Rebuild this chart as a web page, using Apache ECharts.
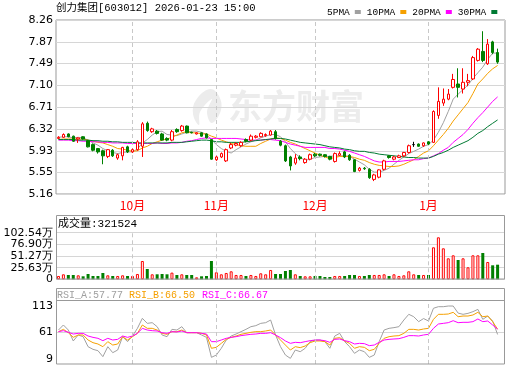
<!DOCTYPE html>
<html><head><meta charset="utf-8">
<script src="https://cdn.jsdelivr.net/npm/echarts@6/dist/echarts.min.js"></script>
<style>html,body{margin:0;padding:0;background:#fff}#c{width:520px;height:365px}</style>
</head><body><div id="c"></div>
<script>
const dates = ['09-10','09-11','09-12','09-15','09-16','09-17','09-18','09-19','09-22','09-23','09-24','09-25','09-26','09-29','09-30',
'10-09','10-10','10-13','10-14','10-15','10-16','10-17','10-20','10-21','10-22','10-23','10-24','10-27','10-28','10-29','10-30','10-31',
'11-03','11-04','11-05','11-06','11-07','11-10','11-11','11-12','11-13','11-14','11-17','11-18','11-19','11-20','11-21','11-24','11-25','11-26','11-27','11-28',
'12-01','12-02','12-03','12-04','12-05','12-08','12-09','12-10','12-11','12-12','12-15','12-16','12-17','12-18','12-19','12-22','12-23','12-24','12-25','12-26','12-29','12-30','12-31',
'01-05','01-06','01-07','01-08','01-09','01-12','01-13','01-14','01-15','01-16','01-19','01-20','01-21','01-22','01-23'];
const open = [6.15,6.17,6.23,6.19,6.14,6.18,6.11,6.04,5.97,5.93,
5.83,5.94,5.80,5.84,6.00,5.91,5.95,6.01,6.42,6.27,
6.28,6.23,6.15,6.12,6.31,6.29,6.37,6.26,6.23,6.25,
6.23,6.13,5.77,5.82,5.75,5.98,6.03,6.02,6.13,6.12,
6.17,6.18,6.20,6.21,6.27,6.10,6.02,5.82,5.71,5.82,
5.72,5.78,5.87,5.87,5.86,5.83,5.74,5.85,5.91,5.85,
5.77,5.58,5.62,5.60,5.42,5.46,5.60,5.84,5.78,5.81,
5.84,5.90,6.04,6.05,6.02,6.09,6.08,6.56,6.78,6.85,
7.06,7.12,7.03,7.15,7.21,7.54,7.70,7.48,7.87,7.68];
const close = [6.17,6.22,6.18,6.10,6.16,6.14,6.00,5.94,5.91,5.84,
5.95,5.84,5.86,5.99,5.91,5.95,6.09,6.41,6.29,6.32,
6.24,6.12,6.12,6.27,6.27,6.37,6.25,6.25,6.25,6.19,
6.16,5.78,5.82,5.88,5.95,6.04,6.06,6.08,6.10,6.19,
6.19,6.24,6.22,6.28,6.15,6.03,5.75,5.66,5.80,5.79,
5.78,5.86,5.84,5.85,5.83,5.78,5.88,5.88,5.82,5.77,
5.56,5.62,5.61,5.45,5.50,5.59,5.75,5.81,5.82,5.84,
5.90,6.02,6.04,6.01,6.07,6.05,6.63,6.81,6.85,6.94,
7.20,7.06,7.15,7.18,7.59,7.74,7.54,7.83,7.68,7.51];
const high = [6.19,6.24,6.24,6.20,6.17,6.19,6.12,6.06,5.98,5.95,
5.96,5.96,5.88,6.00,6.02,5.97,6.12,6.44,6.45,6.34,
6.30,6.25,6.17,6.30,6.33,6.39,6.38,6.27,6.26,6.26,
6.24,6.14,5.84,5.90,5.97,6.07,6.08,6.10,6.15,6.22,
6.21,6.26,6.24,6.30,6.30,6.12,6.04,5.84,5.87,5.85,
5.80,5.88,5.89,5.88,5.87,5.84,5.90,5.92,5.93,5.87,
5.78,5.64,5.64,5.62,5.52,5.60,5.77,5.85,5.84,5.86,
5.91,6.04,6.09,6.06,6.08,6.10,6.65,7.06,7.04,7.03,
7.30,7.40,7.40,7.30,7.62,7.76,8.06,7.92,7.89,7.75];
const low = [6.14,6.16,6.17,6.09,6.07,6.13,5.99,5.92,5.88,5.69,
5.80,5.82,5.77,5.76,5.89,5.89,5.93,5.82,6.27,6.25,
6.22,6.11,6.10,6.10,6.25,6.27,6.24,6.24,6.22,6.18,
6.15,5.77,5.75,5.80,5.73,5.96,6.01,6.00,6.08,6.10,
6.15,6.17,6.18,6.20,6.13,6.01,5.73,5.58,5.68,5.76,
5.70,5.76,5.82,5.83,5.81,5.76,5.72,5.84,5.80,5.75,
5.55,5.56,5.59,5.43,5.39,5.44,5.58,5.79,5.76,5.80,
5.82,5.88,6.00,6.00,6.00,6.03,6.07,6.50,6.73,6.83,
7.04,6.88,6.95,7.08,7.19,7.52,7.51,7.46,7.65,7.48];
const volume = [73000,110000,95000,95000,88000,66000,117000,73000,73000,139000,
88000,73000,73000,88000,73000,73000,117000,403000,227000,110000,
110000,117000,110000,147000,95000,110000,95000,95000,44000,66000,
73000,403000,154000,110000,139000,176000,95000,95000,73000,95000,
73000,132000,110000,205000,117000,117000,183000,205000,110000,73000,
66000,66000,73000,73000,51000,51000,73000,73000,73000,95000,
95000,73000,73000,95000,95000,95000,110000,73000,110000,73000,
88000,176000,110000,95000,95000,95000,704000,924000,682000,462000,
528000,425000,462000,264000,528000,528000,579000,381000,308000,321524];
const ma5 = [6.17,6.18,6.18,6.16,6.17,6.16,6.12,6.07,6.03,5.97,
5.93,5.90,5.88,5.90,5.91,5.91,5.96,6.07,6.13,6.21,
6.27,6.28,6.22,6.21,6.20,6.23,6.26,6.28,6.28,6.26,
6.22,6.13,6.04,5.97,5.92,5.89,5.95,6.00,6.05,6.09,
6.12,6.16,6.19,6.22,6.22,6.18,6.09,5.97,5.88,5.81,
5.76,5.78,5.81,5.82,5.83,5.83,5.84,5.84,5.84,5.83,
5.78,5.73,5.68,5.60,5.55,5.55,5.58,5.62,5.69,5.76,
5.82,5.88,5.92,5.96,6.01,6.04,6.12,6.26,6.43,6.63,
6.85,6.94,7.02,7.10,7.22,7.32,7.42,7.56,7.67,7.67];
const ma10 = [6.13,6.14,6.14,6.14,6.14,6.14,6.12,6.10,6.08,6.07,
6.04,6.01,5.97,5.96,5.94,5.92,5.93,5.98,6.01,6.06,
6.09,6.12,6.14,6.17,6.21,6.25,6.27,6.25,6.25,6.23,
6.23,6.19,6.16,6.12,6.09,6.06,6.04,6.02,6.01,6.01,
6.01,6.06,6.10,6.14,6.16,6.15,6.12,6.08,6.05,6.01,
5.97,5.93,5.89,5.85,5.82,5.79,5.81,5.83,5.83,5.83,
5.81,5.78,5.76,5.72,5.69,5.67,5.66,5.65,5.65,5.66,
5.69,5.73,5.77,5.83,5.89,5.93,6.02,6.12,6.22,6.33,
6.46,6.57,6.68,6.79,6.95,7.12,7.21,7.31,7.39,7.45];
const ma20 = [6.12,6.12,6.12,6.11,6.11,6.10,6.10,6.09,6.09,6.08,
6.08,6.07,6.07,6.07,6.06,6.06,6.06,6.06,6.06,6.06,
6.07,6.06,6.06,6.07,6.07,6.08,6.10,6.11,6.13,6.15,
6.16,6.15,6.15,6.15,6.15,6.15,6.15,6.14,6.13,6.12,
6.12,6.12,6.13,6.13,6.12,6.11,6.08,6.05,6.03,6.01,
5.99,5.99,5.99,5.99,5.99,5.97,5.97,5.96,5.94,5.92,
5.89,5.86,5.83,5.79,5.75,5.73,5.73,5.74,5.74,5.74,
5.75,5.76,5.77,5.77,5.79,5.80,5.84,5.88,5.94,5.99,
6.08,6.15,6.22,6.31,6.42,6.52,6.61,6.71,6.81,6.89];
const ma30 = [6.13,6.13,6.13,6.13,6.12,6.12,6.12,6.11,6.11,6.10,
6.10,6.09,6.09,6.08,6.08,6.08,6.07,6.07,6.07,6.07,
6.07,6.07,6.07,6.08,6.08,6.08,6.09,6.10,6.11,6.12,
6.12,6.11,6.09,6.09,6.08,6.08,6.08,6.08,6.09,6.10,
6.11,6.12,6.13,6.14,6.15,6.15,6.14,6.12,6.10,6.08,
6.07,6.06,6.05,6.04,6.02,6.00,5.99,5.98,5.96,5.95,
5.93,5.92,5.92,5.90,5.89,5.87,5.86,5.85,5.84,5.83,
5.82,5.81,5.81,5.80,5.80,5.80,5.83,5.87,5.90,5.94,
5.99,6.03,6.07,6.11,6.17,6.24,6.29,6.36,6.42,6.48];
const rsiA = [65.1,73.4,65.1,47.0,56.9,54.1,37.6,33.2,31.0,21.1,
37.6,27.7,32.1,54.1,45.9,55.2,67.9,84.4,76.1,77.2,
70.6,56.9,54.1,66.2,65.1,70.6,60.7,60.7,60.7,56.9,
53.0,20.0,23.8,34.9,48.6,55.2,58.5,62.4,66.2,70.6,
72.3,76.1,77.2,81.6,56.9,37.6,23.8,18.3,32.1,29.3,
34.9,45.9,48.6,48.6,45.9,34.9,55.2,59.6,45.9,37.6,
26.6,32.1,29.3,20.0,23.8,45.9,65.1,67.9,69.0,70.6,
81.6,91.0,87.1,78.9,84.0,80.0,101.0,103.6,103.6,104.7,
104.7,93.0,91.0,92.6,95.4,99.2,82.7,88.2,80.0,57.77];
const rsiB = [62.4,66.2,60.7,53.0,56.9,56.9,48.6,44.2,42.0,37.6,
45.9,40.3,42.0,54.1,48.6,54.1,59.6,73.4,67.9,67.9,
65.1,59.6,58.0,62.4,62.4,65.1,60.7,60.7,60.7,59.6,
56.9,34.9,36.5,43.1,49.7,53.0,55.2,58.0,59.6,61.3,
62.4,62.4,63.5,65.1,56.9,48.6,40.3,32.1,37.6,36.0,
38.7,44.2,47.0,47.0,45.9,40.3,51.4,52.5,47.0,43.1,
34.9,37.6,36.5,31.0,33.2,43.1,51.4,54.1,55.2,55.8,
59.6,66.2,66.2,65.1,66.8,67.9,82.7,91.0,91.0,91.5,
94.3,87.1,88.2,88.2,89.9,94.3,87.1,88.2,78.9,66.50];
const rsiC = [62.4,64.0,61.3,58.5,59.6,59.6,55.2,53.0,51.4,47.5,
51.4,48.6,49.7,55.2,53.0,55.2,59.6,67.9,65.1,64.0,
63.5,60.7,59.6,62.4,61.8,63.5,60.7,60.7,60.7,59.6,
58.5,45.9,45.9,48.6,51.4,53.0,54.1,55.8,56.9,58.0,
58.5,59.6,59.6,60.7,56.9,52.5,47.0,43.1,44.8,44.2,
45.9,47.5,48.6,48.6,47.5,44.8,49.7,50.3,47.5,45.9,
42.0,43.1,42.6,39.3,40.3,44.8,48.6,49.7,50.3,50.8,
53.0,55.8,55.8,55.2,56.9,58.0,67.9,75.0,76.1,77.2,
80.5,77.2,77.8,77.8,78.9,83.3,78.9,80.0,73.4,66.67];
const priceTicks = ['5.16','5.55','5.93','6.32','6.71','7.10','7.49','7.87','8.26'];
const volTicks = ['0','25.63万','51.27万','76.90万','102.54万'];
const rsiTicks = ['9','61','113'];
const monthTickDates = ['10-09','11-03','12-01','01-05'];
const monthTickLabels = ['10月','11月','12月','1月'];
const maNames = ['5PMA','10PMA','20PMA','30PMA'];
const titleText = '创力集团[603012] 2026-01-23 15:00';
const volText = '成交量:321524';
const rsiTexts = ['RSI_A:57.77','RSI_B:66.50','RSI_C:66.67'];

const maColors = ['#a0a0a0','#f5a000','#ff00ff','#007a33'];
const rsiColors = ['#a0a0a0','#f5a000','#ff00ff'];
const cats = dates.concat(['']);
const volStep = 256350;
const gridColor = '#d6d6d6';
const frameColor = '#999';
const axisFont = {fontFamily:'DejaVu Sans', fontSize:11, color:'#000'};

const chart = echarts.init(document.getElementById('c'));
const candleData = dates.map((d,i)=>[open[i], close[i], low[i], high[i]]);
const volData = volume.map((v,i)=>({value:v, itemStyle: close[i] >= open[i]
  ? {color:'#fff', borderColor:'#ff0000', borderWidth:1}
  : {color:'#008000', borderColor:'#008000', borderWidth:0}}));
const vLines = () => ({silent:true, symbol:['none','none'], label:{show:false},
  lineStyle:{type:[4,3], color:'#c8c8c8', width:1}, emphasis:{disabled:true},
  data: monthTickDates.map(d=>({xAxis:d}))});

const xBase = (gi, showLabel) => ({type:'category', gridIndex:gi, data:cats, boundaryGap:true,
  axisLine:{show:false}, axisTick:{show:false}, splitLine:{show:false},
  axisLabel: showLabel ? {interval:(idx,val)=>monthTickDates.indexOf(val)>=0,
    formatter:(val)=>monthTickLabels[monthTickDates.indexOf(val)]||'',
    color:'#ff0000', fontSize:12, margin:5, fontFamily:'Noto Sans CJK SC'} : {show:false}});

const series = [];
maNames.forEach((n,k)=>{
  series.push({type:'line', name:n, xAxisIndex:0, yAxisIndex:0, data:[ma5,ma10,ma20,ma30][k],
    symbol:'none', color:maColors[k], lineStyle:{width:1, color:maColors[k]}, z:3, silent:true});
});
series.push({type:'candlestick', name:'K', xAxisIndex:0, yAxisIndex:0, data:candleData, barWidth:3,
  itemStyle:{color:'#ffffff', color0:'#008000', borderColor:'#ff0000', borderColor0:'#008000', borderColorDoji:'#000000', borderWidth:1},
  z:5, silent:true, markLine:vLines()});
series.push({type:'bar', name:'VOL', xAxisIndex:1, yAxisIndex:1, data:volData, barWidth:3, silent:true, markLine:vLines()});
[rsiA,rsiB,rsiC].forEach((arr,k)=>{
  const s = {type:'line', name:'RSI'+k, xAxisIndex:2, yAxisIndex:2, data:arr, symbol:'none',
    lineStyle:{width:1, color:rsiColors[k]}, color:rsiColors[k], silent:true, z:3};
  if (k===0) s.markLine = vLines();
  series.push(s);
});

const option = {
  animation:false,
  grid:[
    {left:56, top:20, width:449, height:174, show:true, borderColor:frameColor, borderWidth:1},
    {left:56, top:232.7, width:449, height:46.6},
    {left:56, top:301, width:449, height:63}
  ],
  legend:{data:maNames, left:322, top:2, itemWidth:6, itemHeight:4, itemGap:6, align:'right', icon:'rect',
    selectedMode:false, textStyle:{fontFamily:'Liberation Mono', fontSize:9.5, color:'#000', padding:0}},
  xAxis:[xBase(0,true), xBase(1,false), xBase(2,false)],
  yAxis:[
    {type:'value', gridIndex:0, min:5.16, max:8.26, scale:true,
      axisLine:{show:false}, axisTick:{show:false, customValues:priceTicks.map(Number)},
      axisLabel:Object.assign({customValues:priceTicks.map(Number), margin:3,
        formatter:(v)=>priceTicks[priceTicks.map(Number).indexOf(v)] || v.toFixed(2)}, axisFont),
      splitLine:{lineStyle:{color:gridColor, width:1}}},
    {type:'value', gridIndex:1, min:0, max:volStep*4, interval:volStep,
      axisLine:{show:false}, axisTick:{show:false},
      axisLabel:Object.assign({margin:3, formatter:(v)=>volTicks[Math.round(v/volStep)]}, axisFont),
      splitLine:{lineStyle:{color:gridColor, width:1}}},
    {type:'value', gridIndex:2, min:9, max:113,
      axisLine:{show:false}, axisTick:{show:false, customValues:[61]},
      axisLabel:Object.assign({customValues:rsiTicks.map(Number), margin:3,
        formatter:(v)=> v===113 ? '{t|'+rsiTicks[2]+'}' : (v===9 ? '{b|'+rsiTicks[0]+'}' : rsiTicks[1]),
        rich:{t:{padding:[10,0,0,0], fontFamily:'DejaVu Sans', fontSize:11, color:'#000'},
              b:{padding:[0,0,9,0], fontFamily:'DejaVu Sans', fontSize:11, color:'#000'}}}, axisFont),
      splitLine:{lineStyle:{color:gridColor, width:1}}}
  ],
  graphic:[
    {type:'text', x:56, y:8, z:10, style:{text:titleText, font:'10.5px "Liberation Mono", "Noto Sans CJK SC"', fill:'#000', verticalAlign:'middle'}},
    {type:'polygon', z:0, shape:{points:[[210,89],[196,100],[193,114],[199,125],[200,112],[212,99],[207,112],[212,123],[221,110],[219,96]], smooth:0.4}, style:{fill:'#ececec'}},
    {type:'text', x:228, y:106, z:0, style:{text:'东方财富', font:'bold 34px "Noto Sans CJK SC"', fill:'#ececec', verticalAlign:'middle'}},
    {type:'rect', z:10, shape:{x:56.5, y:215.5, width:448, height:63.5}, style:{fill:'none', stroke:frameColor, lineWidth:1}},
    {type:'text', x:58, y:224, z:10, style:{text:volText, font:'11px "Liberation Mono", "Noto Sans CJK SC"', fill:'#000', verticalAlign:'middle'}},
    {type:'rect', z:10, shape:{x:56.5, y:288.5, width:448, height:75.5}, style:{fill:'none', stroke:frameColor, lineWidth:1}},
    {type:'line', z:10, shape:{x1:56, y1:300.5, x2:505, y2:300.5}, style:{stroke:frameColor, lineWidth:1}},
    {type:'text', x:57, y:295, z:10, style:{text:rsiTexts[0], font:'10px "Liberation Mono"', fill:rsiColors[0], verticalAlign:'middle'}},
    {type:'text', x:129, y:295, z:10, style:{text:rsiTexts[1], font:'10px "Liberation Mono"', fill:rsiColors[1], verticalAlign:'middle'}},
    {type:'text', x:202, y:295, z:10, style:{text:rsiTexts[2], font:'10px "Liberation Mono"', fill:rsiColors[2], verticalAlign:'middle'}}
  ],
  series: series
};
chart.setOption(option);
</script>
</body></html>
